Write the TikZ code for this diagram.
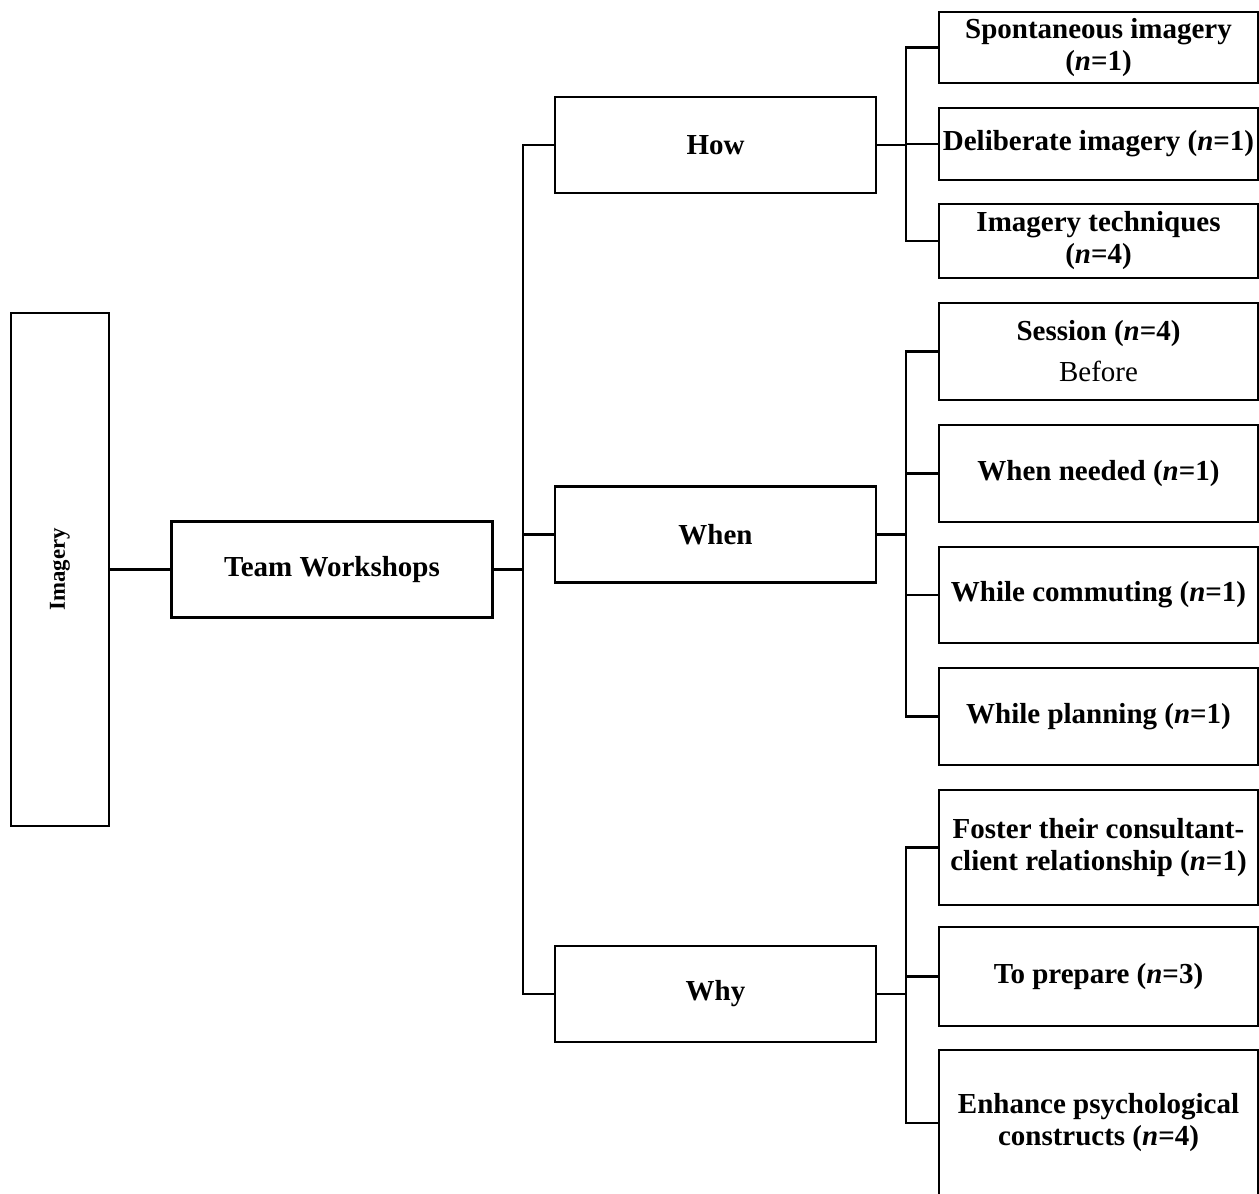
\documentclass[tikz,border=0pt]{standalone}
\usepackage{fontspec}
\setmainfont{Liberation Serif}
\usepackage{graphicx}

\begin{document}
\begin{tikzpicture}[x=0.5pt,y=-0.5pt,
  box/.style={draw,line width=1.4pt,align=center,inner sep=0pt,font=\bfseries\fontsize{14.5}{16}\selectfont},
  mid/.style={box,minimum width=160.5pt,minimum height=48pt},
  leaf/.style={box,minimum width=159.5pt},
  link/.style={line width=1.2pt}]
\useasboundingbox (0,0) rectangle (1259,1194);
\node[box,minimum width=49pt,minimum height=256.5pt,font=\bfseries\fontsize{11.4}{13}\selectfont] (img) at (60,569.5) {\rotatebox{90}{Imagery}};
\node[mid] (tw) at (332,569.5) {Team Workshops};
\node[mid] (how) at (715.5,145) {How};
\node[mid] (when) at (715.5,534.5) {When};
\node[mid] (why) at (715.5,994) {Why};
\node[leaf,minimum height=35.5pt] (spont) at (1098.5,47.5) {Spontaneous imagery\\(\textit{n}=1)};
\node[leaf,minimum height=36pt] (delib) at (1098.5,144) {Deliberate imagery (\textit{n}=1)};
\node[leaf,minimum height=37pt] (techn) at (1098.5,241) {Imagery techniques\\(\textit{n}=4)};
\node[leaf,minimum height=48.5pt] (sess) at (1098.5,351.5) {Session (\textit{n}=4)\\[4.5pt]\mdseries Before};
\node[leaf,minimum height=48.5pt] (needed) at (1098.5,473.5) {When needed (\textit{n}=1)};
\node[leaf,minimum height=48pt] (commute) at (1098.5,595) {While commuting (\textit{n}=1)};
\node[leaf,minimum height=48.5pt] (plan) at (1098.5,716.5) {While planning (\textit{n}=1)};
\node[leaf,minimum height=57.5pt] (foster) at (1098.5,847.5) {Foster their consultant-\\client relationship (\textit{n}=1)};
\node[leaf,minimum height=49.5pt] (prep) at (1098.5,976.5) {To prepare (\textit{n}=3)};
\node[leaf,minimum height=73pt] (enh) at (1098.5,1123) {Enhance psychological\\constructs (\textit{n}=4)};
\coordinate (trunk) at (523,0);
\coordinate (fork) at (906,0);
\draw[link] (img) -- (tw);
\foreach \c in {how,when,why}
  \draw[link] (tw.east) -| (trunk |- \c.west) -- (\c.west);
\foreach \c in {spont,delib,techn}
  \draw[link] (how.east) -| (fork |- \c.west) -- (\c.west);
\foreach \c in {sess,needed,commute,plan}
  \draw[link] (when.east) -| (fork |- \c.west) -- (\c.west);
\foreach \c in {foster,prep,enh}
  \draw[link] (why.east) -| (fork |- \c.west) -- (\c.west);
\end{tikzpicture}
\end{document}
